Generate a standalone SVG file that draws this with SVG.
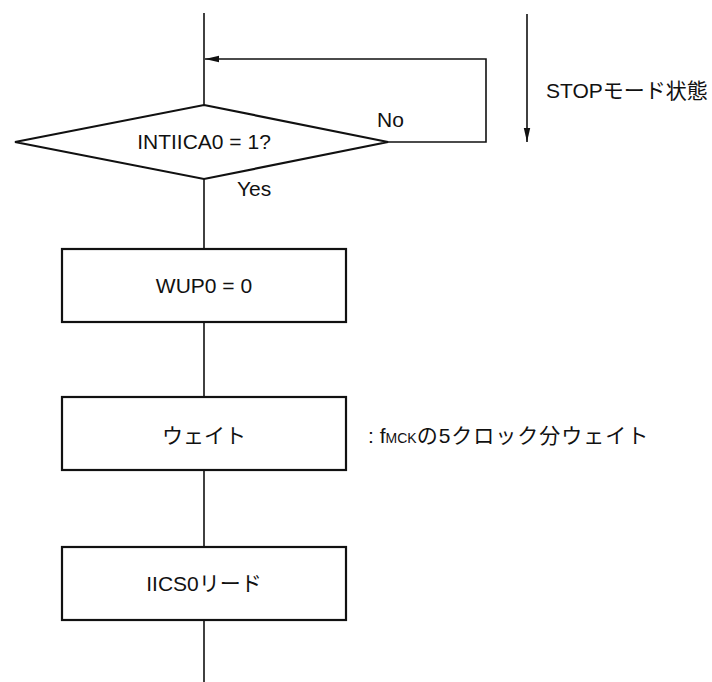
<svg xmlns="http://www.w3.org/2000/svg" width="712" height="682" viewBox="0 0 712 682">
<defs>
<style>
.t{font-family:"Liberation Sans","Noto Sans CJK JP",sans-serif;font-size:21px;fill:#111}
.c{text-anchor:middle}
.box{fill:#fff;stroke:#111;stroke-width:2.2}
.ln{fill:none;stroke:#111;stroke-width:1.6}
</style>
<marker id="ah" markerWidth="14" markerHeight="8" refX="14" refY="4" orient="auto" markerUnits="userSpaceOnUse">
<path d="M0,0.8 L14,4 L0,7.2 Z" fill="#111"/>
</marker>
</defs>
<rect width="712" height="682" fill="#fff"/>
<g id="connectors">
<line class="ln" x1="204" y1="13" x2="204" y2="105"/>
<polyline class="ln" points="388,142 486,142 486,59 205,59" marker-end="url(#ah)"/>
<line class="ln" x1="204" y1="179" x2="204" y2="249"/>
<line class="ln" x1="204" y1="322" x2="204" y2="397"/>
<line class="ln" x1="204" y1="470" x2="204" y2="547"/>
<line class="ln" x1="204" y1="620" x2="204" y2="682"/>
<line class="ln" x1="527" y1="14" x2="527" y2="142" marker-end="url(#ah)"/>
<text class="t" x="377" y="127">No</text>
<text class="t" x="237" y="196">Yes</text>
</g>
<g id="stop-label">
<text class="t" x="546" y="98">STOPモード状態</text>
</g>
<g id="decision">
<polygon class="box" points="204,105 388,142 204,179 15,142"/>
<text class="t c" x="204" y="149">INTIICA0 = 1?</text>
</g>
<g id="wup0">
<rect class="box" x="62" y="249" width="284" height="73"/>
<text class="t c" x="204" y="293">WUP0 = 0</text>
</g>
<g id="wait">
<rect class="box" x="62" y="397" width="284" height="73"/>
<text class="t c" x="204" y="443">ウェイト</text>
</g>
<g id="wait-note">
<text class="t" x="368" y="443">: f<tspan font-size="14">MCK</tspan><tspan letter-spacing="1">の5クロック分ウェイト</tspan></text>
</g>
<g id="iics0">
<rect class="box" x="62" y="547" width="284" height="73"/>
<text class="t c" x="204" y="591">IICS0リード</text>
</g>
</svg>
